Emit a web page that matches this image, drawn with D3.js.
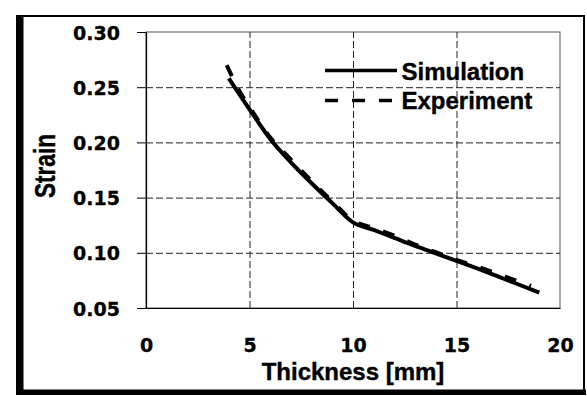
<!DOCTYPE html>
<html><head><meta charset="utf-8">
<script src="https://cdn.jsdelivr.net/npm/d3@7"></script>
<style>
html,body{margin:0;padding:0;background:#fff;}
svg{display:block;}
</style></head>
<body>
<svg id="chart" width="587" height="396"></svg>
<script>
// ---- data ----
const xTicks = [0, 5, 10, 15, 20];
const yTicks = [0.05, 0.10, 0.15, 0.20, 0.25, 0.30];
const yTickLabels = ["0.05", "0.10", "0.15", "0.20", "0.25", "0.30"];
const simThickness = [4, 5, 6, 7, 8, 9, 10, 11, 12, 13, 14, 15, 16, 17, 18, 19];
const simStrain = [0.258, 0.230, 0.203, 0.182, 0.163, 0.145, 0.1276, 0.1207, 0.1135, 0.1063, 0.0995, 0.0927, 0.0858, 0.0787, 0.0713, 0.064];
const expThickness = [3.9, 4.5, 5, 6, 7, 8, 9, 10, 11, 12, 13, 14, 15, 16, 17, 18, 18.6];
const expStrain = [0.270, 0.247, 0.232, 0.2045, 0.1845, 0.165, 0.1465, 0.129, 0.1225, 0.1155, 0.1075, 0.1005, 0.0935, 0.0875, 0.081, 0.074, 0.070];
const seriesNames = ["Simulation", "Experiment"];
const xTitle = "Thickness [mm]";
const yTitle = "Strain";

const svg = d3.select("#chart");
const L = 146, R = 560, T = 32, B = 308;
const x = d3.scaleLinear().domain([0, 20]).range([L, R]);
const y = d3.scaleLinear().domain([0.05, 0.30]).range([B, T]);

// outer frame
svg.append("rect").attr("x", 17).attr("y", 16).attr("width", 567).attr("height", 375)
  .attr("fill", "none").attr("stroke", "#000").attr("stroke-width", 2);
svg.append("rect").attr("x", 16).attr("y", 16).attr("width", 7.5).attr("height", 379).attr("fill", "#000");
svg.append("rect").attr("x", 16).attr("y", 389.5).attr("width", 570).attr("height", 5.5).attr("fill", "#000");

// plot area border
svg.append("rect").attr("x", L).attr("y", T).attr("width", R - L).attr("height", B - T)
  .attr("fill", "none").attr("stroke", "#555").attr("stroke-width", 1);

// grid
const gridY = svg.append("g").attr("transform", `translate(${L},0)`)
  .call(d3.axisLeft(y).tickValues(yTicks.slice(1, -1)).tickSize(-(R - L)).tickFormat(""));
gridY.select(".domain").remove();
gridY.selectAll("line").attr("stroke", "#222").attr("stroke-dasharray", "7,3").attr("stroke-width", 1);

const gridX = svg.append("g").attr("transform", `translate(0,${B})`)
  .call(d3.axisBottom(x).tickValues(xTicks.slice(1, -1)).tickSize(-(B - T)).tickFormat(""));
gridX.select(".domain").remove();
gridX.selectAll("line").attr("stroke", "#222").attr("stroke-dasharray", "7,3").attr("stroke-width", 1);

// y axis
const yAxis = svg.append("g").attr("transform", `translate(${L},0)`)
  .call(d3.axisLeft(y).tickValues(yTicks).tickSize(9).tickPadding(17)
    .tickFormat((d, i) => yTickLabels[i]));
yAxis.select(".domain").attr("stroke", "#000").attr("stroke-width", 1.2);
yAxis.selectAll("line").attr("stroke", "#000");
yAxis.selectAll("text").attr("font-family", "DejaVu Sans").attr("font-weight", "bold")
  .attr("font-size", 19).attr("fill", "#000").attr("stroke", "#000").attr("stroke-width", 0.3)
  .attr("dy", null).attr("y", 7);

// x axis
const xAxis = svg.append("g").attr("transform", `translate(0,${B})`)
  .call(d3.axisBottom(x).tickValues(xTicks).tickSize(0).tickPadding(0));
xAxis.select(".domain").attr("stroke", "#000").attr("stroke-width", 1.2);
xAxis.selectAll("text").attr("font-family", "DejaVu Sans").attr("font-weight", "bold")
  .attr("font-size", 19).attr("fill", "#000").attr("stroke", "#000").attr("stroke-width", 0.3)
  .attr("dy", null).attr("y", 43.5);

// titles
svg.append("text").attr("x", (L + R) / 2).attr("y", 380).attr("text-anchor", "middle")
  .attr("font-family", "Liberation Sans").attr("font-weight", "bold").attr("font-size", 24)
  .attr("stroke", "#000").attr("stroke-width", 0.4)
  .text(xTitle);
svg.append("text").attr("transform", "translate(55,166) rotate(-90)").attr("text-anchor", "middle")
  .attr("font-family", "Liberation Sans").attr("font-weight", "bold").attr("font-size", 29)
  .attr("textLength", 64).attr("lengthAdjust", "spacingAndGlyphs")
  .attr("stroke", "#000").attr("stroke-width", 0.4)
  .text(yTitle);

// lines
const simData = simThickness.map((t, i) => [t, simStrain[i]]);
const expData = expThickness.map((t, i) => [t, expStrain[i]]);
const line = d3.line().x(d => x(d[0])).y(d => y(d[1])).curve(d3.curveMonotoneX);
svg.append("path").datum(simData).attr("d", line).attr("fill", "none")
  .attr("stroke", "#000").attr("stroke-width", 4).attr("stroke-linejoin", "round");
svg.append("path").datum(expData).attr("d", line).attr("fill", "none")
  .attr("stroke", "#000").attr("stroke-width", 4).attr("stroke-dasharray", "12,14");

// legend
const lg = svg.append("g");
lg.append("line").attr("x1", 325).attr("x2", 397).attr("y1", 70.5).attr("y2", 70.5)
  .attr("stroke", "#000").attr("stroke-width", 3.5);
lg.append("line").attr("x1", 325).attr("x2", 392).attr("y1", 100.5).attr("y2", 100.5)
  .attr("stroke", "#000").attr("stroke-width", 3.5).attr("stroke-dasharray", "13,14");
lg.selectAll("text.leg").data(seriesNames).enter().append("text").attr("class", "leg")
  .attr("x", 401.5).attr("y", (d, i) => 80 + i * 29)
  .attr("font-family", "Liberation Sans").attr("font-weight", "bold").attr("font-size", 24)
  .attr("stroke", "#000").attr("stroke-width", 0.4)
  .text(d => d);
</script>
</body></html>
